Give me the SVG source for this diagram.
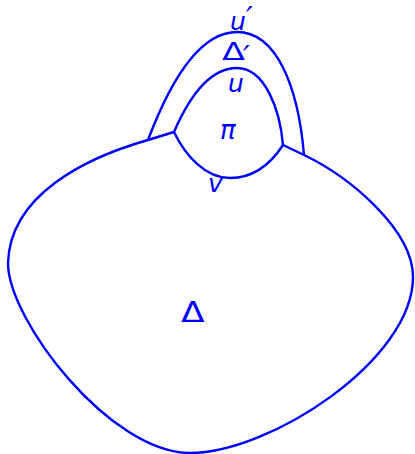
<svg xmlns="http://www.w3.org/2000/svg" width="415" height="454" viewBox="0 0 415 454">
<style>
.c{fill:none;stroke:#0000ff;stroke-width:2.4;stroke-linejoin:round}
text{fill:#0000ff;font-family:"DejaVu Sans","Liberation Sans",sans-serif}
.i{font-style:italic}
.l{font-size:25px}
.p{font-size:30px;font-style:italic}
</style>
<rect width="415" height="454" fill="#fff"/>
<g id="connectors">
<path class="c" d="M148,140 C85,158 10,195 8,263 C8,320 110,453 190,453 C270,453 413,360 413,277 C413,230 350,177 304,155 L283,145"/>
<path class="c" d="M148,140 L174,132"/>
<path class="c" d="M148,140 C165,95 195,32 237,32 C276,32 298,85 304,155"/>
<path class="c" d="M174,132 C190,95 210,68 237,68 C265,68 280,110 283,145"/>
<path class="c" d="M174,132 C185,155 205,178 230,178 C255,178 272,162 283,145"/>
</g>
<g id="Delta"><text x="181" y="322" style="font-size:29px" textLength="23.6" lengthAdjust="spacingAndGlyphs">Δ</text></g>
<g id="DeltaPrime"><text x="222" y="60" style="font-size:24px" textLength="23" lengthAdjust="spacingAndGlyphs">Δ</text><text class="p" x="243" y="67">′</text></g>
<g id="uPrime"><text class="i l" x="230" y="30">u</text><text class="p" x="246" y="28">′</text></g>
<g id="u"><text class="i l" x="228" y="92">u</text></g>
<g id="pi"><text class="i" x="220" y="139" style="font-size:26px">π</text></g>
<g id="v"><text class="i l" x="208" y="192">v</text></g>
</svg>
